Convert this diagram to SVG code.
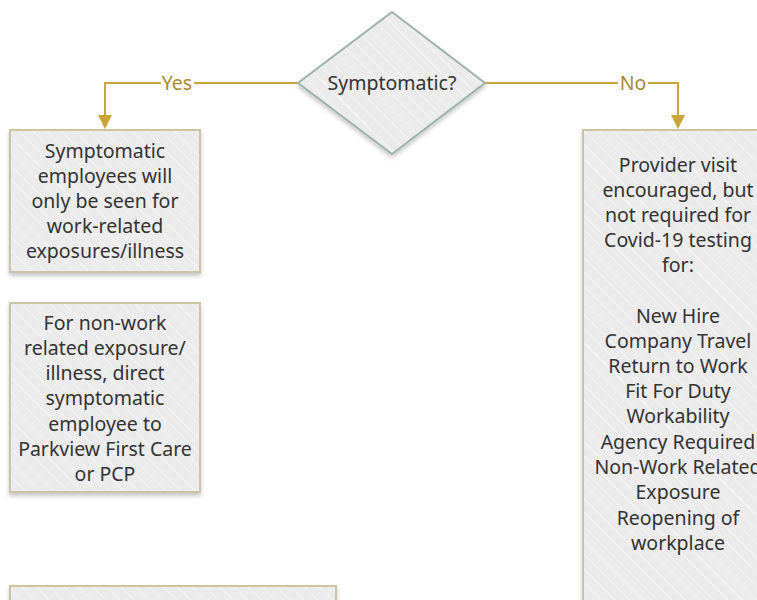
<svg xmlns="http://www.w3.org/2000/svg" width="757" height="600" viewBox="0 0 757 600">
<style>
.box{fill:url(#stripes);stroke:#cdc4a6;stroke-width:2;filter:url(#sh)}
.dia{fill:url(#stripes);stroke:#9db3aa;stroke-width:2;filter:url(#sh)}
.t{font-family:"Noto Sans","Open Sans",sans-serif;font-size:19.5px;fill:#333;text-anchor:middle}
.conn{fill:none;stroke:#c9a53a;stroke-width:2}
.lbl{font-family:"Noto Sans","Open Sans",sans-serif;font-size:19.5px;fill:#a8892c;text-anchor:middle}
</style>
<defs>
<pattern id="stripes" patternUnits="userSpaceOnUse" width="10" height="10" patternTransform="rotate(-45)">
<rect width="10" height="10" fill="#ebebeb"/>
<rect x="0" y="0" width="1.2" height="10" fill="#f3f3f3"/>
</pattern>
<filter id="sh" x="-10%" y="-10%" width="130%" height="130%">
<feDropShadow dx="0" dy="3" stdDeviation="2" flood-color="#000" flood-opacity="0.22"/>
</filter>
</defs>
<rect width="757" height="600" fill="#fff"/>
<g id="connectors">
<path class="conn" d="M298,83 H105 V116"/>
<path d="M98,115 L112,115 L105,129 Z" fill="#c9a53a"/>
<path class="conn" d="M485,83 H678 V116"/>
<path d="M671,115 L685,115 L678,129 Z" fill="#c9a53a"/>
<rect x="161" y="72" width="33" height="22" fill="#fff"/>
<text class="lbl" x="177" y="90">Yes</text>
<rect x="618" y="72" width="30" height="22" fill="#fff"/>
<text class="lbl" x="633" y="90">No</text>
</g>
<g id="decision">
<polygon class="dia" points="392,12 485,83 392,154 298,83"/>
<text class="t" x="392" y="90">Symptomatic?</text>
</g>
<g id="box1">
<rect class="box" x="10" y="130" width="190" height="142"/>
<text class="t" x="105" y="158">Symptomatic</text>
<text class="t" x="105" y="183">employees will</text>
<text class="t" x="105" y="208">only be seen for</text>
<text class="t" x="105" y="233">work-related</text>
<text class="t" x="105" y="258">exposures/illness</text>
</g>
<g id="box2">
<rect class="box" x="10" y="303" width="190" height="189"/>
<text class="t" x="105" y="330">For non-work</text>
<text class="t" x="105" y="355">related exposure/</text>
<text class="t" x="105" y="380">illness, direct</text>
<text class="t" x="105" y="405">symptomatic</text>
<text class="t" x="105" y="431">employee to</text>
<text class="t" x="105" y="456">Parkview First Care</text>
<text class="t" x="105" y="481">or PCP</text>
</g>
<g id="box3">
<rect class="box" x="583" y="130" width="190" height="490"/>
<text class="t" x="678" y="172">Provider visit</text>
<text class="t" x="678" y="197">encouraged, but</text>
<text class="t" x="678" y="222">not required for</text>
<text class="t" x="678" y="247">Covid-19 testing</text>
<text class="t" x="678" y="272">for:</text>
<text class="t" x="678" y="323">New Hire</text>
<text class="t" x="678" y="348">Company Travel</text>
<text class="t" x="678" y="373">Return to Work</text>
<text class="t" x="678" y="398">Fit For Duty</text>
<text class="t" x="678" y="423">Workability</text>
<text class="t" x="678" y="449">Agency Required</text>
<text class="t" x="678" y="474">Non-Work Related</text>
<text class="t" x="678" y="499">Exposure</text>
<text class="t" x="678" y="525">Reopening of</text>
<text class="t" x="678" y="550">workplace</text>
</g>
<g id="box4">
<rect class="box" x="10" y="586" width="326" height="40"/>
</g>
</svg>
